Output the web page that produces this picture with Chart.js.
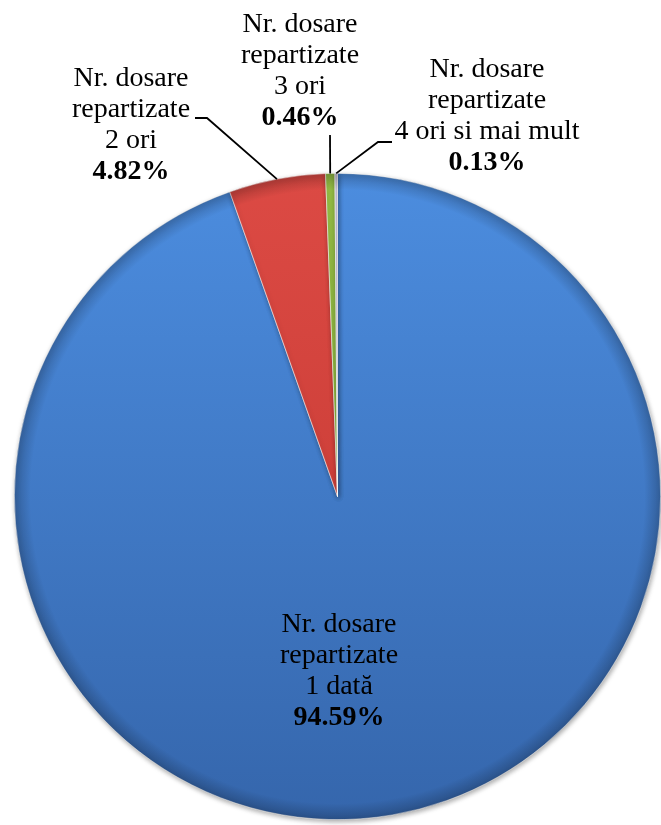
<!DOCTYPE html>
<html>
<head>
<meta charset="utf-8">
<script src="https://cdn.jsdelivr.net/npm/chart.js@4"></script>
<style>
  body { margin: 0; background: #fff; }
  canvas { display: block; }
</style>
</head>
<body>
<canvas id="pieChart" width="661" height="825"></canvas>
<script>
// data
const categories = ["1 dată", "2 ori", "3 ori", "4 ori si mai mult"];
const shares = [94.59, 4.82, 0.46, 0.13];
const labelTitle = ["Nr. dosare", "repartizate"];
const topColors = ["#4c8ddf", "#dc4a44", "#95bd46", "#c9c2d8"];
const bottomColors = ["#3566ac", "#c0362f", "#7fa333", "#a99fc0"];

// where each label sits: centre x, first baseline y, and the leader start
const labelPlace = [
  { x: 339, y: 632 },
  { x: 131, y: 86, lead: [[195, 118], [207, 118]] },
  { x: 300, y: 32, lead: [[330, 135]] },
  { x: 487, y: 77, lead: [[392, 142], [378, 142]] },
];
const lineH = 31;

function sliceFill(context) {
  const chart = context.chart;
  const area = chart.chartArea;
  if (!area) return topColors[context.dataIndex];
  const g = chart.ctx.createLinearGradient(0, area.top, 0, area.bottom);
  g.addColorStop(0, topColors[context.dataIndex]);
  g.addColorStop(1, bottomColors[context.dataIndex]);
  return g;
}

// soft shadow and rim like the office bevel
const bevel = {
  id: "bevel",
  beforeDatasetsDraw(chart) {
    const ctx = chart.ctx;
    ctx.save();
    ctx.shadowColor = "rgba(0,0,0,0.35)";
    ctx.shadowBlur = 5;
    ctx.shadowOffsetX = 1;
    ctx.shadowOffsetY = 2;
  },
  afterDatasetsDraw(chart) {
    const ctx = chart.ctx;
    ctx.restore();
    const arc = chart.getDatasetMeta(0).data[0];
    const r = arc.outerRadius;
    const g = ctx.createRadialGradient(arc.x, arc.y, r * 0.95, arc.x, arc.y, r);
    g.addColorStop(0, "rgba(0,0,0,0)");
    g.addColorStop(1, "rgba(0,0,0,0.22)");
    ctx.save();
    ctx.beginPath();
    ctx.arc(arc.x, arc.y, r, 0, Math.PI * 2);
    ctx.fillStyle = g;
    ctx.fill();
    ctx.restore();
  },
};

// data labels with leader lines
const sliceLabels = {
  id: "sliceLabels",
  afterDraw(chart) {
    const ctx = chart.ctx;
    const arcs = chart.getDatasetMeta(0).data;
    ctx.save();
    ctx.fillStyle = "#000";
    ctx.textAlign = "center";
    ctx.textBaseline = "alphabetic";
    labelPlace.forEach((p, i) => {
      const lines = labelTitle.concat([categories[i]]);
      ctx.font = '28px "Liberation Serif", "Times New Roman", serif';
      lines.forEach((t, k) => ctx.fillText(t, p.x, p.y + k * lineH));
      ctx.font = 'bold 28px "Liberation Serif", "Times New Roman", serif';
      ctx.fillText(shares[i].toFixed(2) + "%", p.x, p.y + 3 * lineH);

      if (p.lead) {
        const a = arcs[i];
        const mid = (a.startAngle + a.endAngle) / 2;
        const ex = a.x + Math.cos(mid) * a.outerRadius;
        const ey = a.y + Math.sin(mid) * a.outerRadius;
        ctx.beginPath();
        ctx.strokeStyle = "#000";
        ctx.lineWidth = 1.8;
        ctx.moveTo(p.lead[0][0], p.lead[0][1]);
        for (let j = 1; j < p.lead.length; j++) ctx.lineTo(p.lead[j][0], p.lead[j][1]);
        ctx.lineTo(ex, ey);
        ctx.stroke();
      }
    });
    ctx.restore();
  },
};

let myChart = document.getElementById("pieChart").getContext("2d");
let chart = new Chart(myChart, {
  type: "pie",
  data: {
    labels: categories,
    datasets: [
      {
        data: shares,
        backgroundColor: sliceFill,
        borderColor: "rgba(255,255,255,0.7)",
        borderWidth: 0.8,
      },
    ],
  },
  options: {
    responsive: false,
    animation: false,
    layout: { padding: { left: 14, right: 0, top: 172, bottom: 4 } },
    plugins: {
      legend: { display: false },
      tooltip: { enabled: false },
      title: { display: false },
    },
  },
  plugins: [bevel, sliceLabels],
});
</script>
</body>
</html>
